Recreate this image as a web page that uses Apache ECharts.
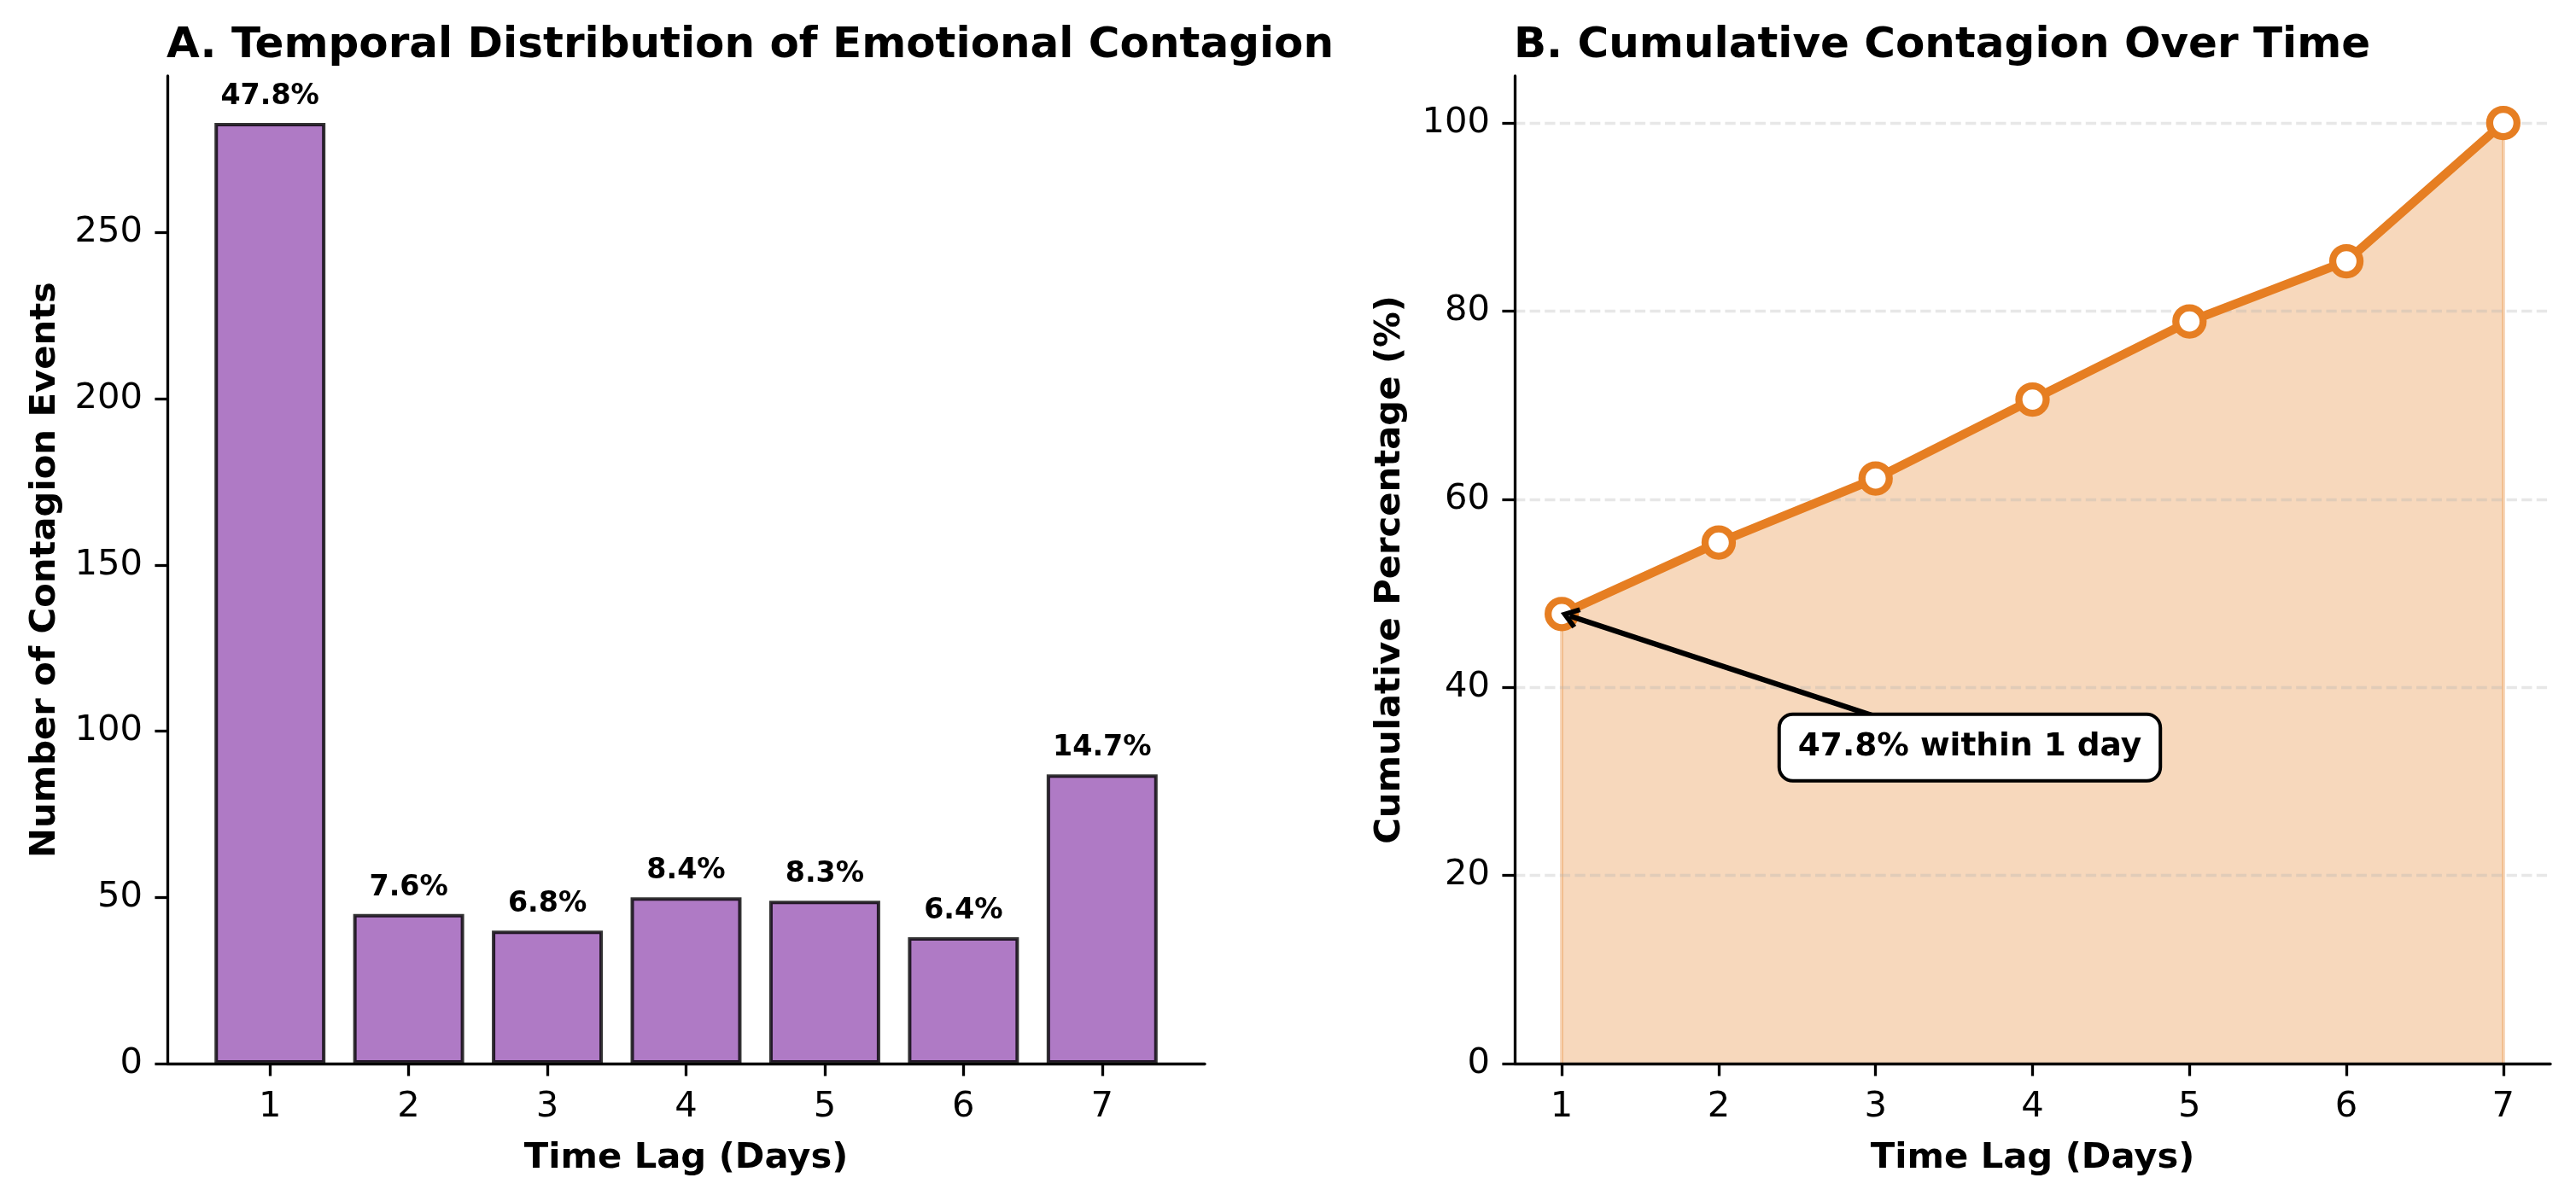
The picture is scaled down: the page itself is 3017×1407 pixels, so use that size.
<!DOCTYPE html>
<html>
<head>
<meta charset="utf-8">
<script src="https://cdn.jsdelivr.net/npm/echarts@6/dist/echarts.min.js"></script>
<style>
html,body{margin:0;padding:0;background:#fff;}
#chart{width:3017px;height:1407px;}
</style>
</head>
<body>
<div id="chart"></div>
<script>
// ---- data ----
const days = [1, 2, 3, 4, 5, 6, 7];
const counts = [283, 45, 40, 50, 49, 38, 87];
const pctLabels = ['47.8%', '7.6%', '6.8%', '8.4%', '8.3%', '6.4%', '14.7%'];
const cumPct = [47.8, 55.4, 62.2, 70.6, 78.9, 85.3, 100.0];
const xTicks = [1, 2, 3, 4, 5, 6, 7];
const yTicksLeft = [0, 50, 100, 150, 200, 250];
const yTicksRight = [0, 20, 40, 60, 80, 100];
const annotText = '47.8% within 1 day';
const annotTextPos = [3.6, 33.6];
const annotArrowTip = [1.05, 47.6];

// ---- layout / style ----
const FONT = 'DejaVu Sans';
const W = 3017, H = 1407;
const gridL = {left: 196, right: W - 1411, top: 89, bottom: H - 1246};
const gridR = {left: 1774, right: W - 2987, top: 89, bottom: H - 1246};
const xMinL = 0.26, xMaxL = 7.74;
const barW = 0.8 * (W - gridL.left - gridL.right) / (xMaxL - xMinL);
const axisLineStyle = {color: '#000', width: 3.3};
const tickStyle = {show: true, length: 14.6, lineStyle: {color: '#000', width: 3.3}};
const tickLabel = {color: '#000', fontFamily: FONT, fontSize: 41.7};
const nameStyle = {color: '#000', fontFamily: FONT, fontSize: 41.7, fontWeight: 'bold'};
const gridLineStyle = {color: 'rgba(176,176,176,0.3)', width: 3.3, type: [12.3, 5.3]};

const chart = echarts.init(document.getElementById('chart'), null, {renderer: 'canvas', width: W, height: H});

const option = {
  backgroundColor: '#fff',
  animation: false,
  title: [
    {text: 'A. Temporal Distribution of Emotional Contagion', left: 190, top: 24,
     textStyle: {fontFamily: FONT, fontSize: 50, fontWeight: 'bold', color: '#000'}},
    {text: 'B. Cumulative Contagion Over Time', left: 1768, top: 24,
     textStyle: {fontFamily: FONT, fontSize: 50, fontWeight: 'bold', color: '#000'}}
  ],
  grid: [
    Object.assign({containLabel: false}, gridL),
    Object.assign({containLabel: false}, gridR)
  ],
  xAxis: [
    {type: 'value', gridIndex: 0, min: xMinL, max: xMaxL,
     name: 'Time Lag (Days)', nameLocation: 'middle', nameGap: 90, nameTextStyle: nameStyle,
     axisLine: {show: true, lineStyle: axisLineStyle},
     axisTick: Object.assign({customValues: xTicks}, tickStyle),
     axisLabel: Object.assign({customValues: xTicks, margin: 30}, tickLabel),
     splitLine: {show: false}},
    {type: 'value', gridIndex: 1, min: 0.7, max: 7.3, z: 3,
     name: 'Time Lag (Days)', nameLocation: 'middle', nameGap: 90, nameTextStyle: nameStyle,
     axisLine: {show: true, lineStyle: axisLineStyle},
     axisTick: Object.assign({customValues: xTicks}, tickStyle),
     axisLabel: Object.assign({customValues: xTicks, margin: 30}, tickLabel),
     splitLine: {show: false}}
  ],
  yAxis: [
    {type: 'value', gridIndex: 0, min: 0, max: 297.15,
     name: 'Number of Contagion Events', nameLocation: 'middle', nameGap: 122, nameTextStyle: nameStyle,
     axisLine: {show: true, lineStyle: axisLineStyle},
     axisTick: Object.assign({customValues: yTicksLeft}, tickStyle),
     axisLabel: Object.assign({customValues: yTicksLeft, margin: 29}, tickLabel),
     splitLine: {show: false}},
    {type: 'value', gridIndex: 1, min: 0, max: 105, interval: 20, z: 3,
     name: 'Cumulative Percentage (%)', nameLocation: 'middle', nameGap: 125, nameTextStyle: nameStyle,
     axisLine: {show: true, lineStyle: axisLineStyle},
     axisTick: Object.assign({customValues: yTicksRight}, tickStyle),
     axisLabel: Object.assign({customValues: yTicksRight, margin: 29}, tickLabel),
     splitLine: {show: false}}
  ],
  series: [
    {
      type: 'bar', xAxisIndex: 0, yAxisIndex: 0,
      data: days.map((d, i) => [d, counts[i]]),
      barWidth: barW,
      itemStyle: {color: 'rgba(155,89,182,0.8)', borderColor: 'rgba(0,0,0,0.8)', borderWidth: 4},
      label: {show: true, position: 'top', distance: 14,
        formatter: p => pctLabels[p.dataIndex],
        fontFamily: FONT, fontSize: 33.3, fontWeight: 'bold', color: '#000'}
    },
    {
      type: 'line', xAxisIndex: 1, yAxisIndex: 1, z: 1,
      data: days.map((d, i) => [d, cumPct[i]]),
      showSymbol: false, symbol: 'none',
      lineStyle: {width: 0, opacity: 0},
      areaStyle: {color: 'rgba(230,126,34,0.3)', opacity: 1, origin: 'start'},
      markLine: {
        silent: true, symbol: ['none', 'none'], z: 1,
        label: {show: false},
        lineStyle: {color: 'rgba(230,126,34,0.3)', width: 4, type: 'solid'},
        data: [
          [{coord: [days[0], 0]}, {coord: [days[0], cumPct[0]]}],
          [{coord: [days[days.length - 1], 0]}, {coord: [days[days.length - 1], cumPct[cumPct.length - 1]]}]
        ]
      }
    },
    {
      // dashed horizontal grid lines at the y tick values (drawn above the fill)
      type: 'line', xAxisIndex: 1, yAxisIndex: 1, z: 2,
      data: [],
      markLine: {
        silent: true, symbol: ['none', 'none'], z: 2,
        label: {show: false},
        lineStyle: gridLineStyle,
        data: yTicksRight.filter(v => v > 0).map(v => ({yAxis: v}))
      }
    },
    {
      type: 'line', xAxisIndex: 1, yAxisIndex: 1, z: 4,
      data: days.map((d, i) => [d, cumPct[i]]),
      symbol: 'circle', symbolSize: 32, showSymbol: true,
      lineStyle: {color: '#E67E22', width: 10.4},
      itemStyle: {color: '#fff', borderColor: '#E67E22', borderWidth: 8.3},
      markLine: {
        silent: true, z: 6,
        symbol: ['none', 'path://M10,0 L20,13 L16.5,15.5 L10,7 L3.5,15.5 L0,13 Z'],
        symbolSize: [26, 22],
        label: {show: false},
        lineStyle: {color: '#000', width: 6.2, type: 'solid'},
        data: [[{coord: annotTextPos}, {coord: annotArrowTip}]]
      },
      markPoint: {
        silent: true, z: 7,
        symbol: 'circle', symbolSize: 1, itemStyle: {color: 'rgba(0,0,0,0)', borderWidth: 0},
        data: [{coord: annotTextPos}],
        label: {show: true, position: 'inside', formatter: annotText,
          fontFamily: FONT, fontSize: 37.5, fontWeight: 'bold', color: '#000',
          backgroundColor: '#fff', borderColor: '#000', borderWidth: 4, borderRadius: 14,
          padding: [17, 20], lineHeight: 40}
      }
    }
  ]
};
chart.setOption(option);
</script>
</body>
</html>
